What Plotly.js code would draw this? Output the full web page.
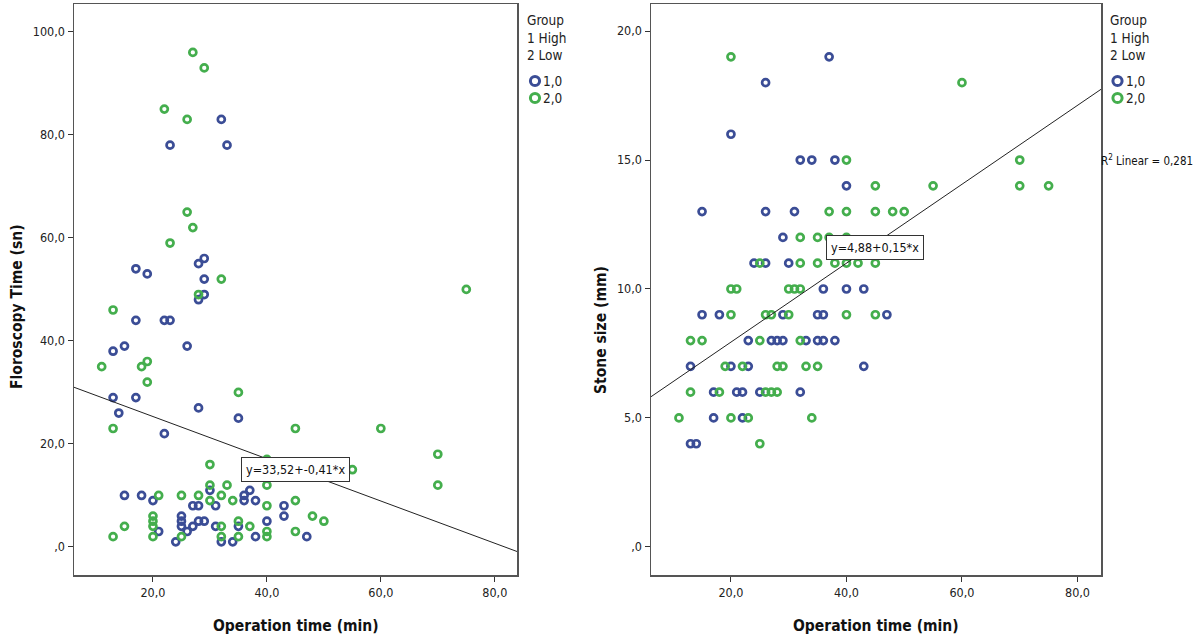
<!DOCTYPE html>
<html><head><meta charset="utf-8">
<script src="https://cdn.plot.ly/plotly-3.0.1.min.js"></script>
<style>html,body{margin:0;padding:0;background:#fff}#chart{width:1204px;height:644px}</style>
</head><body><div id="chart"></div>
<script>
// ---------- data ----------
const groupLabels = ['1,0', '2,0'];
const legendTitleLines = ['Group', '1 High', '2 Low'];

// Left panel: Operation time (min) vs Floroscopy Time (sn)
const leftBlueX = [32,23,33,29,28,17,19,29,29,28,17,22,23,15,26,13,13,17,14,28,35,22,37,30,15,18,36,36,38,20,27,28,31,43,43,25,25,25,26,27,28,29,31,35,40,21,24,32,34,38,47];
const leftBlueY = [83,78,78,56,55,54,53,52,49,48,44,44,44,39,39,38,29,29,26,27,25,22,11,11,10,10,10,9,9,9,8,8,8,8,6,6,5,4,3,4,5,5,4,4,5,3,1,1,1,2,2];
const leftGreenX = [27,29,22,26,26,27,23,32,75,28,13,19,11,18,19,35,13,45,60,70,70,30,55,40,40,30,33,21,25,28,32,34,30,45,40,20,20,20,20,48,50,15,13,25,32,32,35,35,37,40,40,45];
const leftGreenY = [96,93,85,83,65,62,59,52,50,49,46,36,35,35,32,30,23,23,23,18,12,16,15,17,12,12,12,10,10,10,10,9,9,9,8,6,5,4,2,6,5,4,2,2,4,2,5,2,4,3,2,3];

// Right panel: Operation time (min) vs Stone size (mm)
const rightBlueX = [37,26,20,32,34,38,40,15,26,31,29,24,26,30,36,40,43,15,18,29,35,36,47,23,27,28,29,33,35,36,38,13,20,23,43,17,21,22,25,32,17,22,13,14];
const rightBlueY = [19,18,16,15,15,15,14,13,13,13,12,11,11,11,10,10,10,9,9,9,9,9,9,8,8,8,8,8,8,8,8,7,7,7,7,6,6,6,6,6,5,5,4,4];
const rightGreenX = [20,60,40,70,45,55,70,75,37,40,45,48,50,32,35,37,40,25,32,35,38,40,42,45,20,21,30,31,32,20,26,27,30,40,45,13,15,25,32,19,22,28,29,33,35,13,18,26,27,28,11,20,23,34,25];
const rightGreenY = [19,18,15,15,14,14,14,14,13,13,13,13,13,12,12,12,12,11,11,11,11,11,11,11,10,10,10,10,10,9,9,9,9,9,9,8,8,8,8,7,7,7,7,7,7,6,6,6,6,6,5,5,5,5,4];

// Linear fits
const fitIntercepts = [33.52, 4.88];
const fitSlopes = [-0.41, 0.153];
const fitLabels = ['y=33,52+-0,41*x', 'y=4,88+0,15*x'];
const rSquaredLabel = 'R<sup>2</sup> Linear = 0,281';

// Axis ticks
const xTickVals = [20, 40, 60, 80];
const xTickText = ['20,0', '40,0', '60,0', '80,0'];
const leftYTickVals = [0, 20, 40, 60, 80, 100];
const leftYTickText = [',0', '20,0', '40,0', '60,0', '80,0', '100,0'];
const rightYTickVals = [0, 5, 10, 15, 20];
const rightYTickText = [',0', '5,0', '10,0', '15,0', '20,0'];
const xTitle = 'Operation time (min)';
const leftYTitle = 'Floroscopy Time (sn)';
const rightYTitle = 'Stone size (mm)';

// ---------- styling / layout ----------
const W = 1204, H = 644;
const px = v => v / W;
const py = v => 1 - v / H;
const FONT = 'DejaVu Sans Condensed, Liberation Sans Narrow, Liberation Sans, Arial, sans-serif';
const BLUE = '#3b4d96';
const GREEN = '#44ae4d';
const leftXRange = [6.14, 83.9];
const rightXRange = [6.16, 84.07];
const leftYRange = [-5.44, 105.4];
const rightYRange = [-1.09, 21.05];

function pts(x, y, color, xa, ya) {
  return {
    type: 'scatter', mode: 'markers', x: x, y: y, xaxis: xa, yaxis: ya,
    marker: {symbol: 'circle-open', size: 7, color: color, line: {color: color, width: 2.7}},
    showlegend: false, hoverinfo: 'x+y', cliponaxis: false
  };
}
function fitLine(i, range, xa, ya) {
  const xs = [range[0], range[1]];
  return {
    type: 'scatter', mode: 'lines', x: xs, y: xs.map(v => fitIntercepts[i] + fitSlopes[i] * v),
    xaxis: xa, yaxis: ya, line: {color: '#222', width: 1}, showlegend: false, hoverinfo: 'skip'
  };
}

const traces = [
  pts(leftBlueX, leftBlueY, BLUE, 'x', 'y'),
  pts(leftGreenX, leftGreenY, GREEN, 'x', 'y'),
  fitLine(0, leftXRange, 'x', 'y'),
  pts(rightBlueX, rightBlueY, BLUE, 'x2', 'y2'),
  pts(rightGreenX, rightGreenY, GREEN, 'x2', 'y2'),
  fitLine(1, rightXRange, 'x2', 'y2')
];

function axisBase() {
  return {
    showline: true, mirror: true, linecolor: '#555', linewidth: 1.5,
    ticks: 'outside', ticklen: 5, tickwidth: 1, tickcolor: '#333',
    showgrid: false, zeroline: false, fixedrange: true, automargin: false,
    tickfont: {family: FONT, size: 12.5, color: '#222'}
  };
}
const plotTop = 4, plotBottom = 575;
const layout = {
  width: W, height: H,
  margin: {l: 0, r: 0, t: 0, b: 0, pad: 0},
  paper_bgcolor: '#fff', plot_bgcolor: '#fff',
  showlegend: false,
  font: {family: FONT, color: '#222'},
  xaxis: Object.assign(axisBase(), {domain: [px(74), px(517)], range: leftXRange, anchor: 'y', tickvals: xTickVals, ticktext: xTickText}),
  yaxis: Object.assign(axisBase(), {domain: [py(plotBottom), py(plotTop)], range: leftYRange, anchor: 'x', tickvals: leftYTickVals, ticktext: leftYTickText}),
  xaxis2: Object.assign(axisBase(), {domain: [px(651), px(1101)], range: rightXRange, anchor: 'y2', tickvals: xTickVals, ticktext: xTickText}),
  yaxis2: Object.assign(axisBase(), {domain: [py(plotBottom), py(plotTop)], range: rightYRange, anchor: 'x2', tickvals: rightYTickVals, ticktext: rightYTickText}),
  annotations: [],
  shapes: []
};

const A = layout.annotations;
const TF = {family: FONT, size: 15.5, color: '#111'};
// axis titles
A.push({xref: 'paper', yref: 'paper', x: px(295.5), y: py(626), text: '<b>' + xTitle + '</b>', showarrow: false, xanchor: 'center', yanchor: 'middle', font: TF});
A.push({xref: 'paper', yref: 'paper', x: px(876), y: py(626), text: '<b>' + xTitle + '</b>', showarrow: false, xanchor: 'center', yanchor: 'middle', font: TF});
A.push({xref: 'paper', yref: 'paper', x: px(17), y: py(307), text: '<b>' + leftYTitle + '</b>', textangle: -90, showarrow: false, xanchor: 'center', yanchor: 'middle', font: TF});
A.push({xref: 'paper', yref: 'paper', x: px(601), y: py(330), text: '<b>' + rightYTitle + '</b>', textangle: -90, showarrow: false, xanchor: 'center', yanchor: 'middle', font: TF});
// equation boxes
A.push({xref: 'x', yref: 'y', x: 45, y: 15, text: fitLabels[0], showarrow: false, bgcolor: '#fff', bordercolor: '#333', borderwidth: 1, borderpad: 4, font: {family: FONT, size: 12.5, color: '#111'}});
A.push({xref: 'x2', yref: 'y2', x: 45, y: 11.6, text: fitLabels[1], showarrow: false, bgcolor: '#fff', bordercolor: '#333', borderwidth: 1, borderpad: 4, font: {family: FONT, size: 12.5, color: '#111'}});
// R squared
A.push({xref: 'paper', yref: 'paper', x: px(1099), y: py(160), text: rSquaredLabel, showarrow: false, xanchor: 'left', yanchor: 'middle', font: {family: FONT, size: 11.5, color: '#111'}});

// legends (one per panel)
const legendPos = [{x: 526, cx: 535}, {x: 1109, cx: 1117.5}];
const itemYs = [81, 98];
const groupColors = [BLUE, GREEN];
legendPos.forEach(p => {
  A.push({xref: 'paper', yref: 'paper', x: px(p.x - 1), y: py(38), text: legendTitleLines.join('<br>'), align: 'left', showarrow: false, xanchor: 'left', yanchor: 'middle', font: {family: FONT, size: 13.5, color: '#222'}});
  groupLabels.forEach((t, i) => {
    const r = 4.6;
    layout.shapes.push({type: 'circle', xref: 'paper', yref: 'paper', x0: px(p.cx - r), x1: px(p.cx + r), y0: py(itemYs[i] + r), y1: py(itemYs[i] - r), line: {color: groupColors[i], width: 3}});
    A.push({xref: 'paper', yref: 'paper', x: px(p.cx + 6), y: py(itemYs[i]), text: t, showarrow: false, xanchor: 'left', yanchor: 'middle', font: {family: FONT, size: 13.5, color: '#222'}});
  });
});

Plotly.newPlot('chart', traces, layout, {displayModeBar: false, staticPlot: true});
</script></body></html>
